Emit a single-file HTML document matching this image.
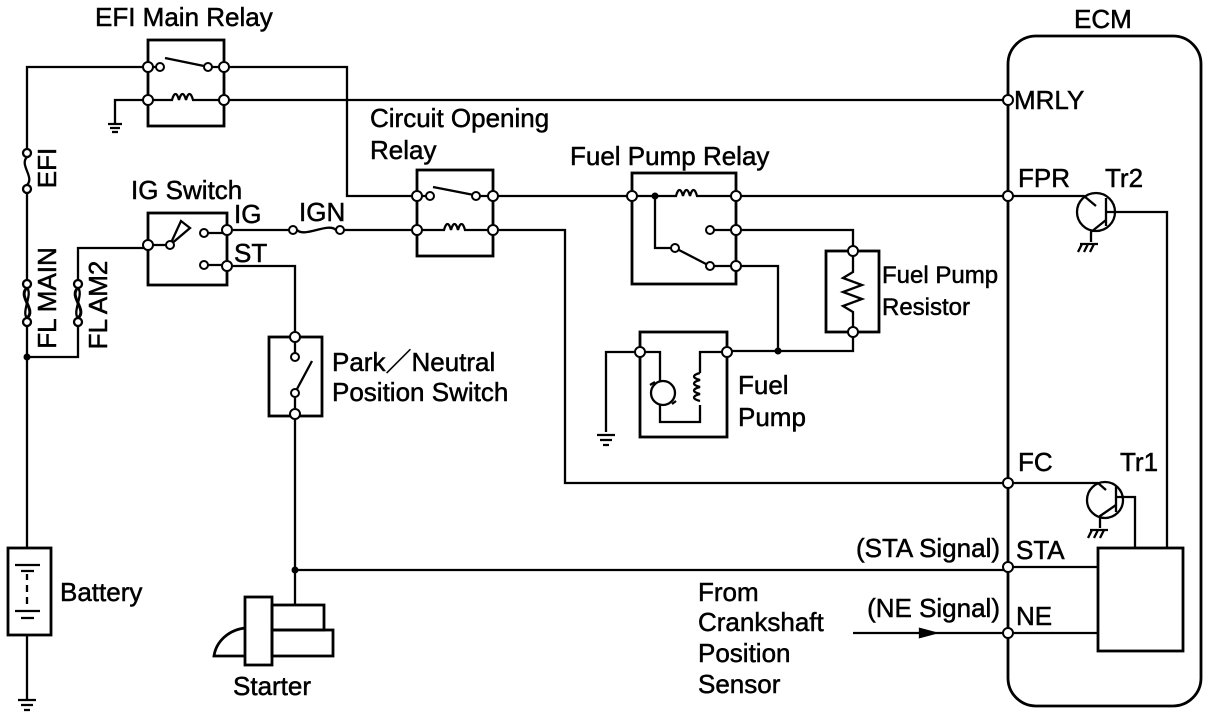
<!DOCTYPE html>
<html><head><meta charset="utf-8"><style>
html,body{margin:0;padding:0;background:#fff;}
svg{display:block;}
text{font-family:"Liberation Sans",Arial,sans-serif;font-size:26px;fill:#000;stroke:#000;stroke-width:0.5;}
</style></head><body>
<svg width="1216" height="716" viewBox="0 0 1216 716" xmlns="http://www.w3.org/2000/svg">
<g fill="none" stroke="#000" stroke-width="2.3">
<rect x="1008" y="36" width="193" height="670" rx="28" ry="28" stroke-width="2.8"/>
<path d="M148,67 H27 V149 M27,193 V280 M27,326 V548 M27,635 V700"/>
<circle cx="27" cy="153" r="4" fill="#fff"/><circle cx="27" cy="189" r="4" fill="#fff"/>
<path d="M27,157 C19,165 35,177 27,185"/>
<circle cx="27" cy="284" r="4" fill="#fff"/><circle cx="27" cy="322" r="4" fill="#fff"/>
<path d="M27,288 C17,296 37,310 27,318" stroke-width="3"/><path d="M27,288 C33,294 21,312 27,318"/>
<path d="M27,357 H78 V326 M78,280 V248 H148"/>
<circle cx="78" cy="284" r="4" fill="#fff"/><circle cx="78" cy="322" r="4" fill="#fff"/>
<path d="M78,288 C68,296 88,310 78,318" stroke-width="3"/><path d="M78,288 C84,294 72,312 78,318"/>
<rect x="8" y="548" width="43" height="87" stroke-width="2.8"/>
<path d="M15,565 H40 M21,571 H34 M27,574 V580 M27,585 V592 M27,597 V604 M15,611 H40 M21,618 H34"/>
<path d="M18,700 H36 M21,705 H33 M24,710 H30"/>
<rect x="148" y="40" width="76" height="86" stroke-width="2.8"/>
<path d="M224,67 H347 V196 H417"/>
<path d="M164,67 H148 M212,67 H224 M165,58 L204,66"/>
<path d="M148,100 H115 V124 M108,124 H122 M110,128 H120 M112,132 H118"/>
<path d="M148,100 H172 c2,-8 5,-8 7,0 c2,-8 5,-8 7,0 c2,-8 5,-8 7,0 H224 H1008"/>
<rect x="148" y="213" width="79" height="72" stroke-width="2.8"/>
<path d="M148,245 H170 M227,230 H293 M340,230 H417 M208,233 H227 M208,265 H227 M227,266 H295 V333"/>
<path d="M170,245 L181,221 L190,228 Z" fill="#fff"/>
<path d="M297,230 C305,238 328,222 336,230"/>
<rect x="417" y="170" width="76" height="86" stroke-width="2.8"/>
<path d="M417,196 H430 M480,196 H493 M433,187 L474,195"/>
<path d="M417,230 H444 c2,-8 5,-8 7,0 c2,-8 5,-8 7,0 c2,-8 5,-8 7,0 H493"/>
<path d="M493,196 H632 M493,230 H565 V483 H1008"/>
<rect x="632" y="173" width="104" height="111" stroke-width="2.8"/>
<path d="M632,196 H676 c2,-8 5,-8 7,0 c2,-8 5,-8 7,0 c2,-8 5,-8 7,0 H736 H1008"/>
<path d="M655,196 V248 H671 M679,250 L706,264 M714,266 H736 M714,230 H736"/>
<path d="M736,230 H853 V251 M853,332 V351 H727 M736,266 H778 V351"/>
<rect x="826" y="251" width="53" height="81" stroke-width="2.8"/>
<path d="M853,255 V272 L843,278 L862,285 L843,292 L862,299 L843,306 L853,312 V328"/>
<rect x="640" y="332" width="87" height="105" stroke-width="2.8"/>
<path d="M640,352 H606 V432 M597,435 H615 M600,440 H612 M603,445 H609"/>
<path d="M640,352 H660 V381 M660,405 V422 H700 V405 M700,373 V352 H727"/>
<circle cx="663" cy="393" r="12"/>
<path d="M650,385 L655,382 M676,401 L672,404"/>
<path d="M700,373 c-8,2 -8,5 0,7 c-8,2 -8,5 0,7 c-8,2 -8,5 0,7 c-8,2 -8,5 0,7"/>
<rect x="269" y="337" width="53" height="79" stroke-width="2.8"/>
<path d="M295,337 V353 M297,389 L312,361 M295,397 V414 M295,418 V605 M295,570 H1008"/>
<rect x="245" y="597" width="27" height="68" stroke-width="2.8"/>
<rect x="272" y="605" width="52" height="25" stroke-width="2.8"/>
<rect x="272" y="630" width="61" height="26" stroke-width="2.8"/>
<path d="M245,628 C228,630 216,642 214,656 H245" stroke-width="2.8"/>
<path d="M1008,196 H1084 L1096,206 M1106,198 V226 M1106,212 H1114 M1114,212 H1167 V548"/>
<circle cx="1096" cy="212" r="19"/>
<path d="M1106,220 L1091,232 V242 M1082,244 L1078,252 M1088,244 L1084,252 M1094,244 L1090,252 M1080,244 H1098"/>
<path d="M1008,483 H1098 L1106,490 M1116,486 V512 M1116,497 H1135 V548"/>
<circle cx="1105" cy="500" r="18"/>
<path d="M1116,505 L1100,516 V528 M1092,530 L1088,538 M1098,530 L1094,538 M1104,530 L1100,538 M1090,530 H1108"/>
<rect x="1098" y="548" width="85" height="103" stroke-width="2.8"/>
<path d="M1008,567 H1098 M1008,633 H1098 M853,633 H1008"/>
<path d="M920,629 L935,633 L920,637 Z" fill="#000"/>
</g>
<g fill="#000">
<circle cx="27" cy="357" r="3.5"/><circle cx="655" cy="196" r="3.5"/><circle cx="778" cy="351" r="3.5"/><circle cx="295" cy="570" r="3.5"/>
</g>
<g fill="#fff" stroke="#000" stroke-width="2">
<circle cx="148" cy="67" r="5"/><circle cx="224" cy="67" r="5"/><circle cx="148" cy="100" r="5"/><circle cx="224" cy="100" r="5"/>
<circle cx="160" cy="67" r="4"/><circle cx="208" cy="67" r="4"/>
<circle cx="148" cy="245" r="5"/><circle cx="227" cy="230" r="5"/><circle cx="227" cy="266" r="5"/><circle cx="170" cy="245" r="4"/>
<circle cx="204" cy="233" r="4"/><circle cx="204" cy="265" r="4"/>
<circle cx="293" cy="230" r="4"/><circle cx="340" cy="230" r="4"/>
<circle cx="417" cy="196" r="5"/><circle cx="493" cy="196" r="5"/><circle cx="417" cy="230" r="5"/><circle cx="493" cy="230" r="5"/>
<circle cx="430" cy="196" r="4"/><circle cx="476" cy="196" r="4"/>
<circle cx="632" cy="196" r="5"/><circle cx="736" cy="196" r="5"/><circle cx="736" cy="230" r="5"/><circle cx="736" cy="266" r="5"/>
<circle cx="675" cy="248" r="4"/><circle cx="710" cy="266" r="4"/><circle cx="710" cy="230" r="4"/>
<circle cx="853" cy="251" r="5"/><circle cx="853" cy="332" r="5"/>
<circle cx="640" cy="352" r="5"/><circle cx="727" cy="352" r="5"/>
<circle cx="295" cy="337" r="5"/><circle cx="295" cy="357" r="4"/><circle cx="295" cy="393" r="4"/><circle cx="295" cy="414" r="5"/>
<circle cx="1008" cy="100" r="5"/><circle cx="1008" cy="196" r="5"/><circle cx="1008" cy="483" r="5"/><circle cx="1008" cy="567" r="5"/><circle cx="1008" cy="633" r="5"/>
</g>
<text x="95" y="26">EFI Main Relay</text>
<text x="1074" y="28">ECM</text>
<text x="1014" y="109">MRLY</text>
<text x="370" y="127">Circuit Opening</text>
<text x="370" y="159">Relay</text>
<text x="570" y="165">Fuel Pump Relay</text>
<text x="1018" y="187">FPR</text>
<text x="1105" y="187">Tr2</text>
<text x="131" y="199">IG Switch</text>
<text x="234" y="223">IG</text>
<text x="234" y="262">ST</text>
<text x="299" y="221">IGN</text>
<text x="882" y="283" style="font-size:24px">Fuel Pump</text>
<text x="882" y="315" style="font-size:24px">Resistor</text>
<text x="332" y="371">Park／Neutral</text>
<text x="332" y="401">Position Switch</text>
<text x="738" y="394">Fuel</text>
<text x="738" y="426">Pump</text>
<text x="1018" y="471">FC</text>
<text x="1120" y="471">Tr1</text>
<text x="1000" y="557" text-anchor="end">(STA  Signal)</text>
<text x="1016" y="559">STA</text>
<text x="1000" y="617" text-anchor="end">(NE  Signal)</text>
<text x="1016" y="625">NE</text>
<text x="698" y="601">From</text>
<text x="698" y="631">Crankshaft</text>
<text x="698" y="662">Position</text>
<text x="698" y="693">Sensor</text>
<text x="60" y="601">Battery</text>
<text x="233" y="695">Starter</text>
<text transform="translate(56,168) rotate(-90)" text-anchor="middle">EFI</text>
<text transform="translate(56,298) rotate(-90)" text-anchor="middle">FL MAIN</text>
<text transform="translate(107,305) rotate(-90)" text-anchor="middle">FL AM2</text>
</svg>
</body></html>
